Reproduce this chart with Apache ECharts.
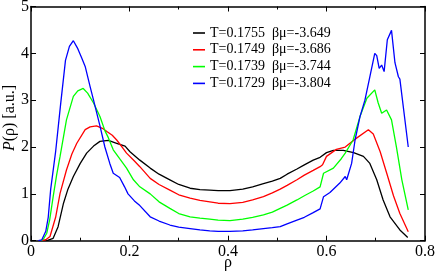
<!DOCTYPE html>
<html><head><meta charset="utf-8">
<script src="https://cdn.jsdelivr.net/npm/echarts@6/dist/echarts.min.js"></script>
<style>html,body{margin:0;padding:0;background:#fff}#c{width:436px;height:273px}</style>
</head><body><div id="c"></div>
<script>
const names = ["T=0.1755  \u03b2\u03bc=-3.649","T=0.1749  \u03b2\u03bc=-3.686","T=0.1739  \u03b2\u03bc=-3.744","T=0.1729  \u03b2\u03bc=-3.804"];
const colors = ["#000000","#ff0000","#00ff00","#0000ff"];
const xTicks = [0,0.2,0.4,0.6,0.8];
const yTicks = [0,1,2,3,4,5];

const blackX = [0.02,0.028,0.035,0.045,0.055,0.066,0.075,0.086,0.1,0.113,0.127,0.14,0.157,0.174,0.191,0.201,0.221,0.242,0.26,0.282,0.3,0.323,0.343,0.363,0.38,0.404,0.43,0.45,0.472,0.49,0.506,0.52,0.54,0.555,0.573,0.587,0.6,0.614,0.634,0.655,0.675,0.688,0.702,0.715,0.729,0.749,0.765];
const blackY = [0,0,0.01,0.05,0.3,0.8,1.1,1.37,1.65,1.87,2.02,2.12,2.14,2.08,2.02,1.9,1.72,1.55,1.42,1.3,1.2,1.12,1.09,1.08,1.07,1.07,1.1,1.15,1.22,1.27,1.33,1.42,1.53,1.62,1.72,1.78,1.88,1.93,1.93,1.88,1.8,1.65,1.3,0.87,0.51,0.23,0.07];

const redX = [0.02,0.03,0.0386,0.05,0.059,0.072,0.083,0.093,0.11,0.12,0.133,0.145,0.154,0.165,0.174,0.185,0.194,0.21,0.221,0.242,0.26,0.282,0.3,0.323,0.343,0.363,0.38,0.404,0.43,0.45,0.472,0.49,0.506,0.52,0.54,0.555,0.573,0.587,0.592,0.6,0.62,0.638,0.661,0.685,0.695,0.709,0.722,0.736,0.749,0.766];
const redY = [0,0.02,0.09,0.5,1.01,1.51,1.85,2.08,2.37,2.43,2.45,2.4,2.33,2.25,2.15,2.0,1.87,1.7,1.58,1.33,1.2,1.08,0.98,0.91,0.86,0.83,0.8,0.79,0.82,0.87,0.94,1.02,1.1,1.18,1.3,1.4,1.5,1.58,1.62,1.8,1.95,2.0,2.19,2.37,2.28,1.9,1.45,0.96,0.58,0.19];

const greenX = [0.02,0.025,0.032,0.038,0.045,0.052,0.059,0.072,0.086,0.095,0.106,0.115,0.127,0.14,0.15,0.157,0.167,0.18,0.194,0.208,0.221,0.242,0.26,0.282,0.3,0.323,0.343,0.363,0.38,0.404,0.43,0.45,0.472,0.49,0.506,0.52,0.54,0.555,0.573,0.587,0.594,0.614,0.63,0.638,0.654,0.668,0.682,0.698,0.705,0.712,0.722,0.732,0.742,0.753,0.766];
const greenY = [0,0.03,0.16,0.45,0.94,1.4,1.8,2.58,3.08,3.2,3.25,3.15,2.94,2.65,2.35,2.2,1.94,1.75,1.55,1.3,1.15,1.0,0.83,0.69,0.58,0.51,0.48,0.46,0.44,0.43,0.46,0.5,0.55,0.61,0.69,0.76,0.87,0.96,1.06,1.15,1.44,1.55,1.75,1.87,2.15,2.65,3.04,3.22,2.94,2.72,2.79,2.58,2.0,1.3,0.66];

const blueX = [0.015,0.022,0.03,0.035,0.04,0.05,0.06,0.07,0.078,0.086,0.095,0.103,0.11,0.12,0.127,0.14,0.15,0.16,0.167,0.18,0.19,0.197,0.21,0.221,0.242,0.26,0.282,0.3,0.323,0.343,0.363,0.38,0.404,0.43,0.45,0.472,0.49,0.506,0.52,0.54,0.555,0.573,0.587,0.594,0.607,0.627,0.638,0.641,0.651,0.658,0.668,0.678,0.688,0.698,0.702,0.707,0.712,0.717,0.7235,0.732,0.739,0.746,0.749,0.766];
const blueY = [0,0.02,0.2,0.5,1.1,1.9,2.9,3.85,4.15,4.27,4.1,3.9,3.72,3.29,3.0,2.45,2.0,1.65,1.44,1.35,1.15,1.0,0.85,0.75,0.51,0.42,0.335,0.29,0.26,0.23,0.21,0.2,0.2,0.21,0.23,0.26,0.28,0.3,0.36,0.44,0.5,0.6,0.68,0.94,1.03,1.23,1.37,1.3,1.65,2.15,2.65,3.0,3.5,4.0,3.95,3.68,3.75,3.61,4.29,4.49,3.8,3.5,3.45,2.0];

const seriesX = [blackX, redX, greenX, blueX];
const seriesY = [blackY, redY, greenY, blueY];

const font = "Liberation Serif";
const chart = echarts.init(document.getElementById('c'), null, {renderer:'canvas'});
const axisBase = {
  min: 0, axisLine:{show:true,onZero:false,lineStyle:{color:'#000',width:1.5}},
  axisTick:{show:true,inside:true,length:5,lineStyle:{color:'#000',width:1}},
  splitLine:{show:false}
};
chart.setOption({
  animation:false,
  backgroundColor:'#fff',
  grid:{left:31,right:11,top:6.5,bottom:32.3,containLabel:false,outerBoundsMode:'none'},
  legend:{
    data:names, orient:'vertical', left:188, top:21, itemGap:2.8,
    icon:'rect', itemWidth:12, itemHeight:1.6,
    textStyle:{fontFamily:font,fontSize:14,color:'#000',lineHeight:14}
  },
  xAxis:[
    Object.assign({}, axisBase, {type:'value',max:0.8,interval:0.2,position:'bottom',
      minorTick:{show:true,splitNumber:2,length:3,lineStyle:{color:'#000',width:1}},
      axisLabel:{fontFamily:font,fontSize:16,color:'#000',margin:3,
        formatter:v=>{const t=xTicks.find(k=>Math.abs(k-v)<1e-9);return t===0?'0':String(t);}},
      name:'\u03c1',nameLocation:'middle',nameGap:14,nameMoveOverlap:false,
      nameTextStyle:{fontFamily:font,fontSize:16,color:'#000'}}),
    Object.assign({}, axisBase, {type:'value',max:0.8,interval:0.2,position:'top',
      minorTick:{show:true,splitNumber:2,length:3,lineStyle:{color:'#000',width:1}},
      axisLabel:{show:false}})
  ],
  yAxis:[
    Object.assign({}, axisBase, {type:'value',max:5,interval:1,position:'left',
      axisLabel:{fontFamily:font,fontSize:16,color:'#000',margin:2,
        formatter:v=>String(yTicks.find(k=>Math.abs(k-v)<1e-9))}}),
    Object.assign({}, axisBase, {type:'value',max:5,interval:1,position:'right',
      axisLabel:{show:false}})
  ],
  graphic:[{
    type:'text', x:10, y:118, rotation:Math.PI/2,
    style:{text:'{i|P}(\u03c1) [a.u.]', fontFamily:font, fontSize:16, fill:'#000',
      align:'center', verticalAlign:'middle',
      rich:{i:{fontFamily:font,fontSize:16,fontStyle:'italic'}}}
  }],
  series: names.map((n,i)=>({
    name:n, type:'line', xAxisIndex:0, yAxisIndex:0, showSymbol:false, symbol:'none',
    color:colors[i], lineStyle:{color:colors[i],width:1.3},
    data: seriesX[i].map((x,j)=>[x, seriesY[i][j]])
  }))
});
</script></body></html>
